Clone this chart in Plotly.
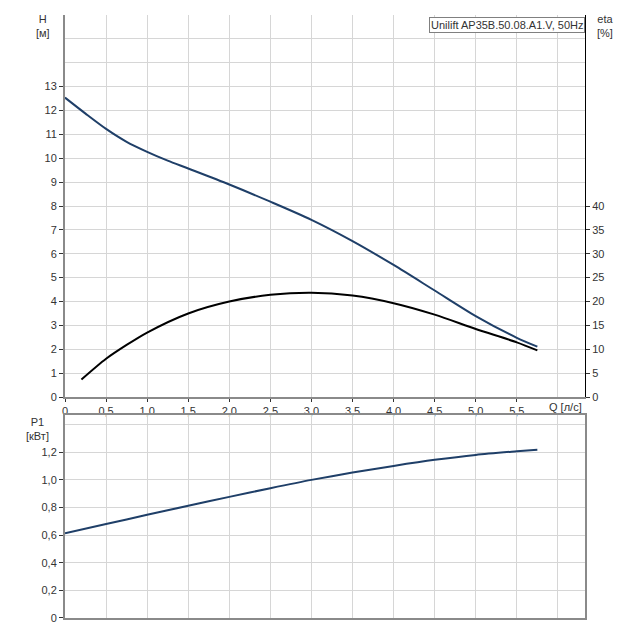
import plotly.graph_objects as go

# --- data ---
q_h = [0, 0.25, 0.5, 0.75, 1.0, 1.25, 1.5, 2.0, 2.5, 3.0, 3.5, 4.0, 4.5, 5.0, 5.5, 5.75]
h_m = [12.54, 11.87, 11.23, 10.69, 10.27, 9.9, 9.57, 8.9, 8.18, 7.42, 6.53, 5.53, 4.46, 3.39, 2.48, 2.11]

q_eta = [0.2, 0.5, 0.75, 1.0, 1.5, 2.0, 2.5, 3.0, 3.5, 4.0, 4.5, 5.0, 5.5, 5.75]
eta_pct = [3.65, 8.0, 10.9, 13.5, 17.5, 20.0, 21.4, 21.85, 21.25, 19.65, 17.25, 14.25, 11.45, 9.75]

q_p = [0, 0.5, 1.0, 1.5, 2.0, 2.5, 3.0, 3.5, 4.0, 4.5, 5.0, 5.5, 5.75]
p1_kw = [0.614, 0.68, 0.747, 0.812, 0.877, 0.94, 1.0, 1.053, 1.101, 1.145, 1.181, 1.207, 1.219]

q_ticks = [0, 0.5, 1.0, 1.5, 2.0, 2.5, 3.0, 3.5, 4.0, 4.5, 5.0, 5.5]
q_labels = ["0", "0,5", "1,0", "1,5", "2,0", "2,5", "3,0", "3,5", "4,0", "4,5", "5,0", "5,5"]
h_ticks = list(range(0, 14))
eta_ticks = [0, 5, 10, 15, 20, 25, 30, 35, 40]
p_ticks = [0, 0.2, 0.4, 0.6, 0.8, 1.0, 1.2]
p_labels = ["0", "0,2", "0,4", "0,6", "0,8", "1,0", "1,2"]

title_text = "Unilift AP35B.50.08.A1.V, 50Hz"

BLUE = "#1f3f68"
GRID = "#d6d6d6"
AXIS = "#8a8a8a"
TXT = "#333333"
FONT = "Liberation Sans, Arial, sans-serif"

fig = go.Figure()
fig.add_trace(go.Scatter(x=q_h, y=h_m, mode="lines",
                         line=dict(color=BLUE, width=2, shape="spline", smoothing=0.8),
                         xaxis="x", yaxis="y", hoverinfo="skip"))
fig.add_trace(go.Scatter(x=q_eta, y=eta_pct, mode="lines",
                         line=dict(color="#000000", width=2, shape="spline", smoothing=0.8),
                         xaxis="x", yaxis="y2", hoverinfo="skip"))
fig.add_trace(go.Scatter(x=q_p, y=p1_kw, mode="lines",
                         line=dict(color=BLUE, width=2, shape="spline", smoothing=0.8),
                         xaxis="x2", yaxis="y3", hoverinfo="skip"))

xr = [0, 6.33]
common_x = dict(range=xr, tickvals=q_ticks, ticktext=q_labels, showgrid=True, gridcolor=GRID, gridwidth=1,
                minor=dict(tickvals=[6.0], showgrid=True, gridcolor=GRID, ticks=""),
                zeroline=False, showline=True, linecolor=AXIS, linewidth=2,
                tickfont=dict(size=11, color=TXT))

fig.update_layout(
    width=640, height=640,
    margin=dict(l=65, r=55, t=15, b=22),
    paper_bgcolor="white", plot_bgcolor="white",
    showlegend=False,
    font=dict(family=FONT, size=11, color=TXT),
    xaxis=dict(domain=[0, 1], anchor="y", ticks="outside", ticklen=3, tickcolor=TXT, **common_x),
    yaxis=dict(domain=[0.3665, 1], range=[0, 16], tickvals=h_ticks, showgrid=True, gridcolor=GRID,
               minor=dict(tickvals=[14, 15], showgrid=True, gridcolor=GRID, ticks=""),
               zeroline=False, showline=True, linecolor=AXIS, linewidth=2,
               ticks="outside", ticklen=4, tickcolor=TXT, tickfont=dict(size=11, color=TXT)),
    yaxis2=dict(overlaying="y", side="right", anchor="x", range=[0, 80], tickvals=eta_ticks,
                showgrid=False, zeroline=False, showline=True, linecolor="#000000", linewidth=1,
                ticks="outside", ticklen=4, tickcolor=TXT, tickfont=dict(size=11, color=TXT)),
    xaxis2=dict(domain=[0, 1], anchor="y3", ticks="", showticklabels=False, mirror=True, **common_x),
    yaxis3=dict(domain=[0, 0.3367], anchor="x2", range=[0, 1.47], tickvals=p_ticks, ticktext=p_labels,
                showgrid=True, gridcolor=GRID,
                minor=dict(tickvals=[1.4], showgrid=True, gridcolor=GRID, ticks=""),
                zeroline=False, showline=True, mirror=True, linecolor=AXIS, linewidth=2,
                ticks="outside", ticklen=4, tickcolor=TXT, tickfont=dict(size=11, color=TXT)),
)

fig.add_annotation(text="H<br>[м]", xref="paper", yref="paper", x=-0.042, y=0.981,
                   showarrow=False, xanchor="center", yanchor="middle", font=dict(size=11, color=TXT))
fig.add_annotation(text="eta<br>[%]", xref="paper", yref="paper", x=1.038, y=0.981,
                   showarrow=False, xanchor="center", yanchor="middle", font=dict(size=11, color=TXT))
fig.add_annotation(text="P1<br>[кВт]", xref="paper", yref="paper", x=-0.053, y=0.313,
                   showarrow=False, xanchor="center", yanchor="middle", font=dict(size=11, color=TXT))
fig.add_annotation(text="Q [л/с]", xref="paper", yref="paper", x=0.963, y=0.35,
                   showarrow=False, xanchor="center", yanchor="middle", font=dict(size=11, color=TXT))
fig.add_annotation(text=title_text, xref="paper", yref="paper", x=1.0, y=0.997,
                   showarrow=False, xanchor="right", yanchor="top", bgcolor="white",
                   bordercolor="#808080", borderwidth=1, borderpad=1, font=dict(size=11, color=TXT))

fig.write_html("out.html")
